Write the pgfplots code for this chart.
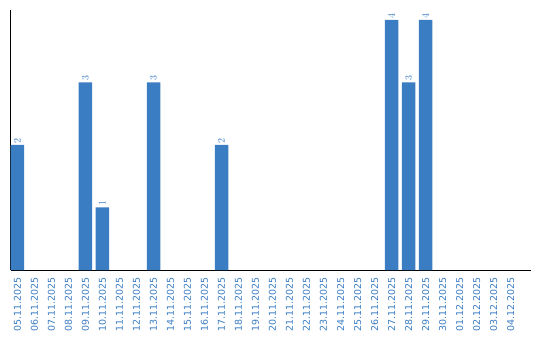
\documentclass[border=0pt]{standalone}
\usepackage{fontspec}
\setmainfont{DejaVu Sans}
\usepackage{pgfplots}
\pgfplotsset{compat=1.18}
\definecolor{barblue}{RGB}{59,125,195}
\begin{document}
\begin{tikzpicture}
\begin{axis}[
  scale only axis, width=520.5bp, height=260bp,
  xmin=-0.41, xmax=30.2, ymin=0, ymax=4.16,
  axis x line*=bottom, axis y line*=left,
  axis line style={black, line width=1bp, -},
  ytick=\empty,
  xtick={0,...,29},
  xticklabels={05.11.2025,06.11.2025,07.11.2025,08.11.2025,09.11.2025,10.11.2025,11.11.2025,12.11.2025,13.11.2025,14.11.2025,15.11.2025,16.11.2025,17.11.2025,18.11.2025,19.11.2025,20.11.2025,21.11.2025,22.11.2025,23.11.2025,24.11.2025,25.11.2025,26.11.2025,27.11.2025,28.11.2025,29.11.2025,30.11.2025,01.12.2025,02.12.2025,03.12.2025,04.12.2025},
  xticklabel style={rotate=90, anchor=east, font=\fontsize{9.5}{10}\selectfont, text=barblue, inner sep=0pt},
  xticklabel shift=7bp,
  major tick length=0pt,
  ybar, bar width=13.5bp,
  nodes near coords={\fontsize{10}{11}\selectfont\pgfmathprintnumber{\pgfplotspointmeta}},
  every node near coord/.append style={rotate=90, anchor=west, text=barblue, inner sep=1.5bp},
]
\addplot[fill=barblue, draw=none] coordinates {(0,2) (4,3) (5,1) (8,3) (12,2) (22,4) (23,3) (24,4)};
\end{axis}
\pgfresetboundingbox
\path[use as bounding box] ([shift={(-10.5bp,-70bp)}]current axis.south west) rectangle ++(540bp,340bp);
\end{tikzpicture}
\end{document}
